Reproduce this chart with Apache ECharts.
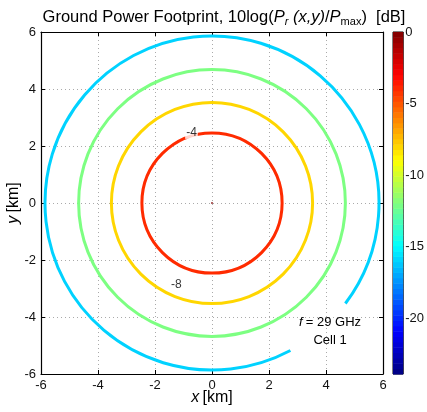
<!DOCTYPE html>
<html><head><meta charset="utf-8">
<script src="https://cdn.jsdelivr.net/npm/echarts@6/dist/echarts.min.js"></script>
<style>html,body{margin:0;padding:0;background:#fff}#c{width:427px;height:412px}</style>
</head><body><div id="c"></div>
<script>
// ---- data ----
const axisTicks = [-6, -4, -2, 0, 2, 4, 6];
const contourLevels = [-4, -8, -12, -16];          // dB
const contourRadii = [2.46, 3.53, 4.68, 5.86];     // km
const contourGapDeg = [0, 0, 0, 25];               // gap left for annotation (deg)
const contourGapStart = [0, 0, 0, 37];
const contourLabels = [[-0.72, 2.46, '-4'], [-1.25, -2.86, '-8']];
const peakPoint = [[0, 0]];
const cbarTicks = [0, -5, -10, -15, -20];
const cbarMin = -23.9, cbarMax = 0;

// ---- colormap (MATLAB jet, 64 steps) ----
function clamp(v){return Math.max(0, Math.min(1, v));}
function jet(t){
  const r = clamp(1.5 - Math.abs(4*t - 3));
  const g = clamp(1.5 - Math.abs(4*t - 2));
  const b = clamp(1.5 - Math.abs(4*t - 1));
  return 'rgb(' + Math.round(r*255) + ',' + Math.round(g*255) + ',' + Math.round(b*255) + ')';
}
function levelColor(v){ return jet((v - cbarMin) / (cbarMax - cbarMin)); }
const nBands = 64;
const bands = [];
for (let i = 0; i < nBands; i++) {
  const lo = cbarMin + (cbarMax - cbarMin) * i / nBands;
  const hi = cbarMin + (cbarMax - cbarMin) * (i + 1) / nBands;
  bands.push([lo, hi, (i + 0.5) / nBands]);
}

const font = 'Liberation Sans, Arial, Helvetica, sans-serif';
const chart = echarts.init(document.getElementById('c'), null, {renderer: 'canvas'});

const mainAxisCommon = {
  type: 'value', min: -6, max: 6, interval: 2,
  axisLine: {show: true, onZero: false, lineStyle: {color: '#000', width: 1.2}},
  axisTick: {show: true, inside: true, length: 4, lineStyle: {color: '#000'}},
  axisLabel: {color: '#111', fontSize: 13, fontFamily: font},
};

chart.setOption({
  animation: false,
  grid: [
    {left: 41, top: 32, width: 342, height: 342, show: false},
    {left: 393, top: 32, width: 14, height: 342, show: true, borderColor: '#000', borderWidth: 1}
  ],
  xAxis: [
    Object.assign({}, mainAxisCommon, {gridIndex: 0, position: 'bottom',
      axisLabel: Object.assign({}, mainAxisCommon.axisLabel, {margin: 5}),
      splitLine: {show: true, lineStyle: {color: '#aaa', type: [1, 3], width: 1}}}),
    Object.assign({}, mainAxisCommon, {gridIndex: 0, position: 'top', axisLabel: {show: false}, splitLine: {show: false}}),
    {type: 'value', gridIndex: 1, min: 0, max: 1, show: false}
  ],
  yAxis: [
    Object.assign({}, mainAxisCommon, {gridIndex: 0, position: 'left',
      axisLabel: Object.assign({}, mainAxisCommon.axisLabel, {margin: 5}),
      splitLine: {show: true, lineStyle: {color: '#aaa', type: [1, 3], width: 1}}}),
    Object.assign({}, mainAxisCommon, {gridIndex: 0, position: 'right', axisLabel: {show: false}, splitLine: {show: false}}),
    {type: 'value', gridIndex: 1, position: 'right', min: cbarMin, max: cbarMax,
      axisLine: {show: false, onZero: false},
      axisTick: {show: true, inside: true, length: 3, customValues: cbarTicks, lineStyle: {color: '#000'}},
      axisLabel: {show: true, customValues: cbarTicks, color: '#111', fontSize: 13, fontFamily: font, margin: 2},
      splitLine: {show: false}}
  ],
  series: [
    {
      type: 'custom', xAxisIndex: 2, yAxisIndex: 2, silent: true,
      data: bands,
      renderItem: function (params, api) {
        const p1 = api.coord([0, api.value(1)]);
        const p2 = api.coord([1, api.value(0)]);
        return {type: 'rect', shape: {x: p1[0], y: p1[1], width: p2[0] - p1[0], height: p2[1] - p1[1] + 0.5},
          style: {fill: jet(api.value(2))}};
      }
    },
    {
      type: 'custom', xAxisIndex: 0, yAxisIndex: 0, silent: true, clip: true,
      data: contourLevels.map((lv, i) => [contourRadii[i], lv, contourGapStart[i], contourGapDeg[i]]),
      renderItem: function (params, api) {
        const c = api.coord([0, 0]);
        const r = api.size([api.value(0), 0])[0];
        const color = levelColor(api.value(1));
        const gs = api.value(2), gd = api.value(3);
        if (!gd) {
          return {type: 'circle', shape: {cx: c[0], cy: c[1], r: r},
            style: {fill: 'none', stroke: color, lineWidth: 3}};
        }
        return {type: 'arc', shape: {cx: c[0], cy: c[1], r: r,
            startAngle: (gs + gd) * Math.PI / 180, endAngle: (gs + 360) * Math.PI / 180, clockwise: true},
          style: {fill: 'none', stroke: color, lineWidth: 3}};
      }
    },
    {
      type: 'scatter', xAxisIndex: 0, yAxisIndex: 0, silent: true,
      data: peakPoint, symbolSize: 2, itemStyle: {color: '#800000'}
    },
    {
      type: 'scatter', xAxisIndex: 0, yAxisIndex: 0, silent: true, z: 5,
      data: contourLabels, symbolSize: 0,
      label: {show: true, position: 'inside', formatter: p => p.data[2], color: '#000',
        fontSize: 12, fontFamily: font, backgroundColor: '#fff', padding: [0, 1]}
    }
  ],
  graphic: [
    {type: 'text', x: 224, y: 16, z: 10, style: {
      text: '{n|Ground Power Footprint, 10log(}{i|P}{s|r}{i| (x,y)}{n|/}{i|P}{m|max}{n|)  [dB]}',
      align: 'center', verticalAlign: 'middle',
      rich: {
        n: {fontSize: 16.5, fontFamily: font, fill: '#000', lineHeight: 22, verticalAlign: 'bottom', padding: [0,0,1,0]},
        i: {fontSize: 16.5, fontFamily: font, fontStyle: 'italic', fill: '#000', lineHeight: 22, verticalAlign: 'bottom', padding: [0,0,1,0]},
        s: {fontSize: 11, fontFamily: font, fontStyle: 'italic', fill: '#000', lineHeight: 22, verticalAlign: 'bottom'},
        m: {fontSize: 11, fontFamily: font, fill: '#000', lineHeight: 22, verticalAlign: 'bottom'}
      }
    }},
    {type: 'text', x: 212, y: 398, z: 10, style: {
      text: '{i|x} {n|[km]}', align: 'center', verticalAlign: 'middle',
      rich: {i: {fontSize: 16, fontStyle: 'italic', fontFamily: font, fill: '#000'},
             n: {fontSize: 16, fontFamily: font, fill: '#000'}}
    }},
    {type: 'text', x: 14, y: 203, rotation: Math.PI / 2, z: 10, style: {
      text: '{i|y} {n|[km]}', align: 'center', verticalAlign: 'middle',
      rich: {i: {fontSize: 16, fontStyle: 'italic', fontFamily: font, fill: '#000'},
             n: {fontSize: 16, fontFamily: font, fill: '#000'}}
    }},
    {type: 'text', x: 330, y: 331, z: 10, style: {
      text: '{i|f} {n|= 29 GHz}\n{n|Cell 1}', align: 'center', verticalAlign: 'middle',
      rich: {i: {fontSize: 13, fontStyle: 'italic', fontFamily: font, fill: '#000', lineHeight: 18, align: 'center'},
             n: {fontSize: 13, fontFamily: font, fill: '#000', lineHeight: 18, align: 'center'}}
    }}
  ]
});
</script></body></html>
